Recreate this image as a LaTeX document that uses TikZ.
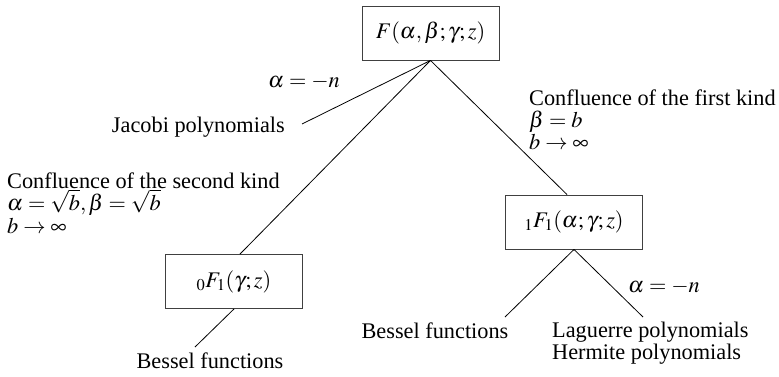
\documentclass[tikz,border=0pt]{standalone}
\usepackage{mathptmx}
\usepackage[no-math]{fontspec}
\setmainfont{Liberation Serif}
\begin{document}
\begin{tikzpicture}[x=1pt,y=-1pt,
  font=\fontsize{22.3}{22}\selectfont,
  fbox/.style={draw=black!75, line width=0.9pt, minimum width=137pt, minimum height=54pt, inner sep=0pt},
  lbl/.style={inner sep=0pt},
  conn/.style={line width=0.8pt, black}]
\useasboundingbox (0,0) rectangle (779,376);
% boxes
\node[fbox] (F)  at (430.5,33)  {$F(\alpha,\beta;\gamma;z)$};
\node[fbox] (zf) at (234,281.5) {${}_0F_1(\gamma;z)$};
\node[fbox] (of) at (574,222)   {${}_1F_1(\alpha;\gamma;z)$};
% labels
\node[lbl, anchor=base west] (an1) at (268,87)  {$\alpha=-n$};
\node[lbl, anchor=base east] (jac) at (285,132) {Jacobi polynomials};
\node[lbl, anchor=base west] (c2a) at (7,188)   {Confluence of the second kind};
\node[lbl, anchor=base west] (c2b) at (7,210)   {$\alpha=\sqrt{b}, \beta=\sqrt{b}$};
\node[lbl, anchor=base west] (c2c) at (7,233)   {$b\to\infty$};
\node[lbl, anchor=base west] (c1a) at (529,105) {Confluence of the first kind};
\node[lbl, anchor=base west] (c1b) at (529,127) {$\beta=b$};
\node[lbl, anchor=base west] (c1c) at (529,149) {$b\to\infty$};
\node[lbl, anchor=base west] (an2) at (628,292) {$\alpha=-n$};
\node[lbl, anchor=base] (bes1) at (435,338) {Bessel functions};
\node[lbl, anchor=base west] (lag) at (552,337) {Laguerre polynomials};
\node[lbl, anchor=base west] (her) at (552,359) {Hermite polynomials};
\node[lbl, anchor=base] (bes0) at (210,368) {Bessel functions};
% connector ends
\coordinate (jacend) at (302,124);
\coordinate (bes0end) at (195,347);
\coordinate (bes1end) at (505,317);
\coordinate (lagend) at (643,317);
% connectors
\draw[conn] (F.south) -- (jacend);
\draw[conn] (F.south) -- ([xshift=6pt]zf.north);
\draw[conn] (F.south) -- ([xshift=-7pt]of.north);
\draw[conn] (zf.south) -- (bes0end);
\draw[conn] (of.south) -- (bes1end);
\draw[conn] (of.south) -- (lagend);
\end{tikzpicture}
\end{document}
